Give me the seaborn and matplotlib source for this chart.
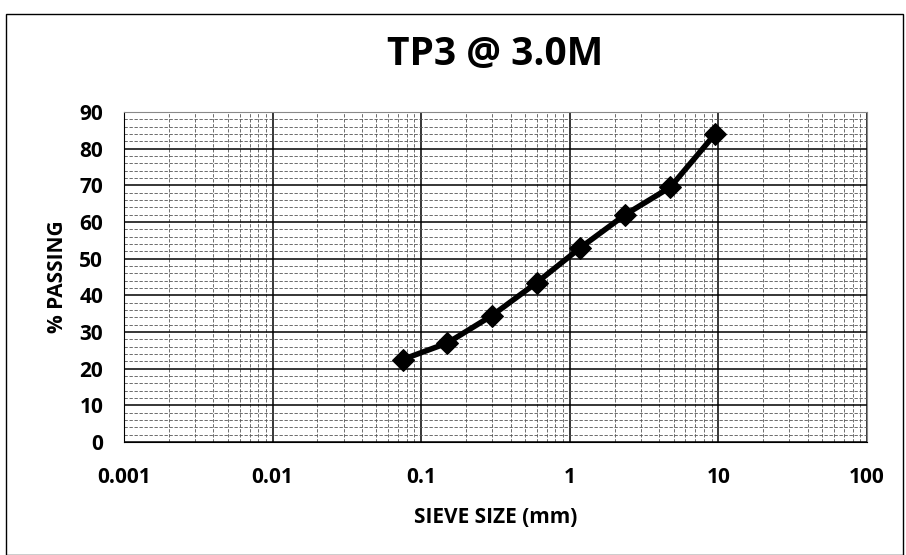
import matplotlib
matplotlib.use("Agg")
import matplotlib.pyplot as plt
import seaborn as sns
import pandas as pd
from matplotlib.ticker import LogLocator, MultipleLocator, FixedLocator, FixedFormatter

# Sieve analysis: TP3 at 3.0 m
sieve_mm = [0.075, 0.15, 0.3, 0.6, 1.18, 2.36, 4.75, 9.5]
percent_passing = [22.5, 27, 34.5, 43.5, 53, 62, 69.5, 84]
x_ticks = [0.001, 0.01, 0.1, 1, 10, 100]
x_tick_labels = ["0.001", "0.01", "0.1", "1", "10", "100"]
y_ticks = [0, 10, 20, 30, 40, 50, 60, 70, 80, 90]

sns.set_theme(style="white")
plt.rcParams["font.family"] = ["Open Sans", "DejaVu Sans"]
plt.rcParams["text.color"] = "black"
plt.rcParams["axes.labelcolor"] = "black"
plt.rcParams["xtick.color"] = "black"
plt.rcParams["ytick.color"] = "black"

df = pd.DataFrame({"size": sieve_mm, "passing": percent_passing})

fig = plt.figure(figsize=(9.06, 5.55), dpi=100)
left, right, bottom, top = 124 / 906, 867 / 906, 1 - 442 / 555, 1 - 112 / 555
ax = fig.add_axes([left, bottom, right - left, top - bottom])

ax.set_xscale("log")
ax.set_xlim(0.001, 100)
ax.set_ylim(0, 90)

# gridlines: heavy majors, light dashed minors
ax.xaxis.set_major_locator(FixedLocator(x_ticks))
ax.xaxis.set_major_formatter(FixedFormatter(x_tick_labels))
ax.xaxis.set_minor_locator(LogLocator(base=10, subs=range(2, 10)))
ax.yaxis.set_major_locator(FixedLocator(y_ticks))
ax.yaxis.set_minor_locator(MultipleLocator(2))
ax.grid(which="major", color="black", linewidth=1.1)
ax.grid(which="minor", color="#555555", linewidth=0.6, linestyle=(0, (4, 2)))
ax.set_axisbelow(True)

sns.lineplot(data=df, x="size", y="passing", ax=ax, color="black",
             linewidth=4, marker="D", markersize=11, markeredgecolor="black",
             zorder=5)

for s in ax.spines.values():
    s.set_color("#888888")
    s.set_linewidth(0.8)
ax.spines["left"].set_color("black")
ax.spines["bottom"].set_color("black")

ax.tick_params(axis="both", which="both", length=0)
ax.tick_params(axis="x", pad=18, labelsize=15)
ax.tick_params(axis="y", pad=15, labelsize=15)
for lab in ax.get_xticklabels() + ax.get_yticklabels():
    lab.set_fontweight("bold")

ax.set_xlabel("SIEVE SIZE (mm)", fontsize=15, fontweight="bold", labelpad=14)
ax.set_ylabel("% PASSING", fontsize=15, fontweight="bold", labelpad=14)
ax.yaxis.set_label_coords(-0.075, 0.5)
fig.text(0.5 * (left + right), 0.901, "TP3 @ 3.0M", ha="center", va="center",
         fontsize=28, fontweight="bold")

# outer chart frame
fig.patches.append(plt.Rectangle((0.007, 0.0), 0.99, 0.975, transform=fig.transFigure,
                                 fill=False, edgecolor="black", linewidth=1.0))

fig.savefig("out.png", dpi=100)
